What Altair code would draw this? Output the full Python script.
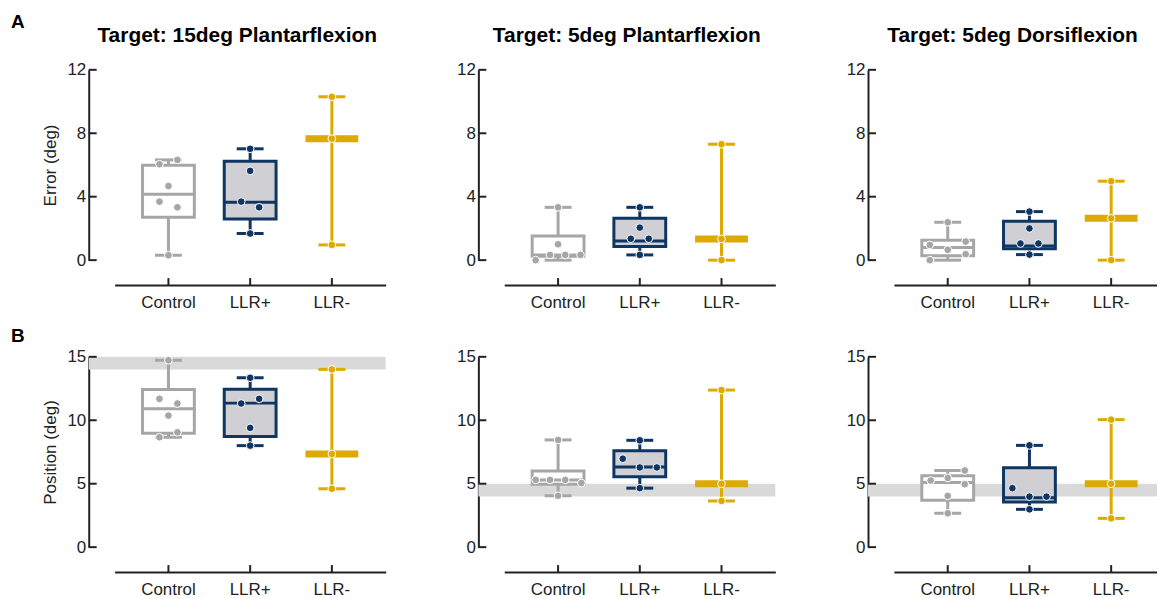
import altair as alt
import pandas as pd

groups = ["Control", "LLR+", "LLR-"]
colors = ["#a6a6a6", "#0f3562", "#dcaa00"]
box_fill = ["#ffffff", "#d0d0d4", "#ffffff"]
panel_titles = ["Target: 15deg Plantarflexion", "Target: 5deg Plantarflexion", "Target: 5deg Dorsiflexion"]

# ---- Row A: Error (deg) -------------------------------------------------
A1_control = [6.05, 6.32, 4.67, 3.69, 3.33, 0.31]
A1_control_jit = [-1, 1, 0, -1, 1, 0]
A1_llrp = [7.02, 5.63, 3.69, 3.33, 1.68]
A1_llrp_jit = [0, 0, -1, 1, 0]
A1_llrm = [10.30, 7.66, 0.96]

A2_control = [3.33, 1.00, 0.33, 0.33, 0.33, 0.00]
A2_control_jit = [0, 0, -0.9, 0.8, 2.5, -2.5]
A2_llrp = [3.33, 2.05, 1.35, 1.35, 0.33]
A2_llrp_jit = [0, 0, -1, 1, 0]
A2_llrm = [7.31, 1.34, 0.00]

A3_control = [2.39, 1.17, 0.96, 0.65, 0.38, 0.00]
A3_control_jit = [0, 2, -2, 0, 2, -2]
A3_llrp = [3.06, 2.00, 1.05, 1.05, 0.35]
A3_llrp_jit = [0, 0, -1, 1, 0]
A3_llrm = [4.98, 2.64, 0.00]

# box statistics (Q1, median, Q3)
A_box_control = [(2.70, 4.15, 5.99), (0.25, 0.33, 1.53), (0.28, 0.80, 1.25)]
A_box_llrp = [(2.60, 3.65, 6.24), (0.86, 1.20, 2.64), (0.72, 0.90, 2.45)]
A_ticks = [0, 4, 8, 12]

# ---- Row B: Position (deg) ----------------------------------------------
B1_control = [14.73, 11.69, 11.32, 10.37, 9.05, 8.66]
B1_control_jit = [0, -1, 1, 0, 1, -1]
B1_llrp = [13.35, 11.69, 11.32, 9.40, 8.00]
B1_llrp_jit = [0, 1, -1, 0, 0]
B1_llrm = [14.01, 7.34, 4.60]

B2_control = [8.45, 5.30, 5.30, 5.30, 5.05, 4.05]
B2_control_jit = [0, -2.5, -0.9, 0.8, 2.6, 0]
B2_llrp = [8.42, 6.97, 6.28, 6.28, 4.65]
B2_llrp_jit = [0, -1.9, 0, 1.9, 0]
B2_llrm = [12.38, 4.99, 3.64]

B3_control = [6.04, 5.45, 5.25, 4.96, 4.04, 2.67]
B3_control_jit = [1.9, 0, -1.9, 1.9, 0, 0]
B3_llrp = [8.02, 4.65, 3.98, 3.98, 2.98]
B3_llrp_jit = [0, -1.9, 0, 1.9, 0]
B3_llrm = [10.05, 4.99, 2.27]

B_box_control = [(8.97, 10.90, 12.43), (4.95, 5.30, 6.00), (3.70, 5.10, 5.62)]
B_box_llrp = [(8.72, 11.35, 12.45), (5.55, 6.32, 7.60), (3.55, 3.90, 6.25)]
B_target = [(14.0, 15.0), (4.0, 5.0), (4.0, 5.0)]
B_ticks = [0, 5, 10, 15]

H = 191
WIDTHS = [272, 272, 264]   # last panel runs to the right edge of the figure
STEP = 82
JIT_PX = 9
INK = "#222222"
FS = 17


def build_data(ctrl, ctrl_jit, llrp, llrp_jit, llrm, box_c, box_p):
    pts = pd.DataFrame({
        "group": ["Control"] * len(ctrl) + ["LLR+"] * len(llrp) + ["LLR-"] * len(llrm),
        "value": ctrl + llrp + llrm,
        "jit": ctrl_jit + llrp_jit + [0] * len(llrm),
    })
    rng = pts.groupby("group")["value"].agg(["min", "max"])
    box = pd.DataFrame({
        "group": groups,
        "lo": [rng.loc[g, "min"] for g in groups],
        "hi": [rng.loc[g, "max"] for g in groups],
        "q1": [box_c[0], box_p[0], None],
        "med": [box_c[1], box_p[1], sorted(llrm)[1]],
        "q3": [box_c[2], box_p[2], None],
        "hasbox": [True, True, False],
    })
    return pts, box


def panel(pts, box, W, ymax, yticks, ytitle, show_ytitle, title, band=None):
    outer = W - 3 * STEP
    xsc = alt.Scale(domain=groups, paddingInner=0, paddingOuter=outer / (2 * STEP),
                    align=min(1.0, 13 / outer))
    ysc = alt.Scale(domain=[0, ymax], nice=False, zero=True)
    csc = alt.Scale(domain=groups, range=colors)
    xax = alt.Axis(ticks=False, domainWidth=2, domainColor=INK, offset=25,
                   labelFontSize=FS, labelPadding=10, labelAngle=0, title=None,
                   labelColor=INK, grid=False)
    yax = alt.Axis(values=yticks, ticks=False, domainWidth=2, domainColor=INK,
                   offset=26, labelFontSize=FS, labelPadding=3, title=ytitle,
                   titleFontSize=FS, titleFontWeight="normal", titlePadding=7,
                   titleOpacity=1 if show_ytitle else 0, labelColor=INK,
                   titleColor=INK, grid=False)
    X = alt.X("group:N", scale=xsc, axis=xax, sort=groups)
    col = alt.Color("group:N", scale=csc, legend=None)

    def Y(f):
        return alt.Y(f, type="quantitative", scale=ysc, axis=yax)

    layers = []
    if band is not None:
        bdf = pd.DataFrame({"lo": [band[0]], "hi": [band[1]]})
        layers.append(alt.Chart(bdf).mark_rect(color="#d9d9d9").encode(
            x=alt.value(-26), x2=alt.value(W), y=Y("lo"), y2="hi"))
    base = alt.Chart(box)
    layers.append(base.mark_rule(strokeWidth=3, opacity=1).encode(x=X, y=Y("lo"), y2="hi", color=col))
    layers.append(base.mark_tick(size=27, thickness=3, opacity=1).encode(x=X, y=Y("lo"), color=col))
    layers.append(base.mark_tick(size=27, thickness=3, opacity=1).encode(x=X, y=Y("hi"), color=col))
    bx = base.transform_filter("datum.hasbox")
    layers.append(bx.mark_bar(size=52, strokeWidth=3, opacity=1).encode(
        x=X, y=Y("q1"), y2="q3",
        stroke=alt.Stroke("group:N", scale=csc, legend=None),
        fill=alt.Fill("group:N", scale=alt.Scale(domain=groups, range=box_fill), legend=None)))
    layers.append(bx.mark_tick(size=52, thickness=3, opacity=1).encode(x=X, y=Y("med"), color=col))
    layers.append(base.transform_filter("!datum.hasbox").mark_tick(
        size=53, thickness=7, opacity=1).encode(x=X, y=Y("med"), color=col))
    # points: offset from band start to band centre plus the dot scatter
    layers.append(alt.Chart(pts).transform_calculate(
        jx=f"datum.jit * {JIT_PX} + {STEP / 2}").mark_circle(
        size=60, opacity=1, stroke="white", strokeWidth=1).encode(
        x=X, xOffset=alt.XOffset("jx:Q", scale=None), y=Y("value"), color=col))
    # inward tick marks on both axes
    tdf = pd.DataFrame({"tick": yticks})
    layers.append(alt.Chart(tdf).mark_rule(strokeWidth=2, color=INK).encode(
        y=Y("tick"), x=alt.value(-26), x2=alt.value(-18)))
    gdf = pd.DataFrame({"group": groups})
    layers.append(alt.Chart(gdf).mark_rule(strokeWidth=2, color=INK).encode(
        x=X, y=alt.value(H + 25), y2=alt.value(H + 18)))
    ch = alt.layer(*layers).properties(width=W, height=H)
    if title:
        ch = ch.properties(title=alt.TitleParams(
            title, fontSize=21, fontWeight="bold", frame="group", anchor="middle",
            dx=-13, offset=15, color="black"))
    return ch


rowA_src = [
    (A1_control, A1_control_jit, A1_llrp, A1_llrp_jit, A1_llrm),
    (A2_control, A2_control_jit, A2_llrp, A2_llrp_jit, A2_llrm),
    (A3_control, A3_control_jit, A3_llrp, A3_llrp_jit, A3_llrm),
]
rowB_src = [
    (B1_control, B1_control_jit, B1_llrp, B1_llrp_jit, B1_llrm),
    (B2_control, B2_control_jit, B2_llrp, B2_llrp_jit, B2_llrm),
    (B3_control, B3_control_jit, B3_llrp, B3_llrp_jit, B3_llrm),
]

rowA, rowB = [], []
for i in range(3):
    pts, box = build_data(*rowA_src[i], A_box_control[i], A_box_llrp[i])
    rowA.append(panel(pts, box, WIDTHS[i], 12, A_ticks, "Error (deg)", i == 0, panel_titles[i]))
    pts, box = build_data(*rowB_src[i], B_box_control[i], B_box_llrp[i])
    rowB.append(panel(pts, box, WIDTHS[i], 15, B_ticks, "Position (deg)", i == 0, None,
                      band=B_target[i]))


def letter(t, off, dy):
    return alt.TitleParams(t, fontSize=19, fontWeight="bold", anchor="start",
                           frame="bounds", dx=-31, dy=dy, offset=off, color="black")


chart = alt.vconcat(
    alt.hconcat(*rowA, spacing=119, bounds="flush", title=letter("A", 0, 7)).resolve_scale(
        x="independent", y="independent"),
    alt.hconcat(*rowB, spacing=119, bounds="flush", title=letter("B", 2, 0)).resolve_scale(
        x="independent", y="independent"),
    spacing=16,
).resolve_scale(x="independent", y="independent").properties(
    padding={"left": 3, "top": 4, "right": 0, "bottom": 0}
).configure(font="Liberation Sans").configure_view(stroke=None)

chart.save("out.html", embed_options={"renderer": "svg", "actions": False})
